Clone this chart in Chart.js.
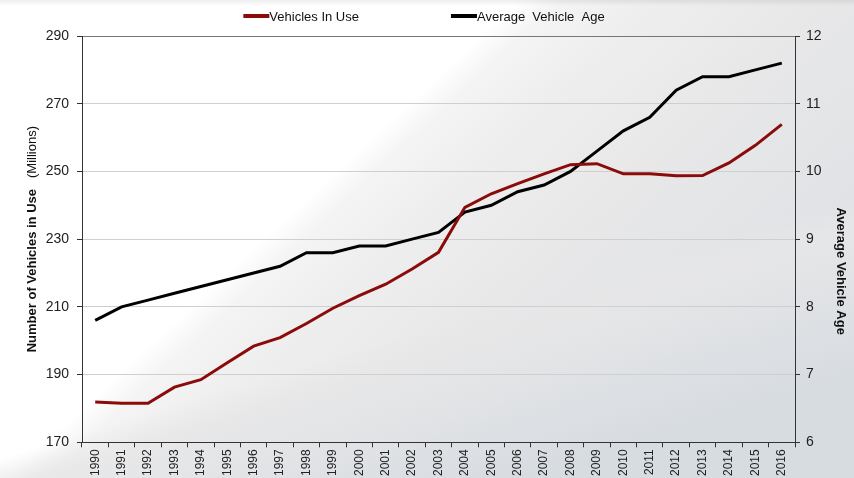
<!DOCTYPE html>
<html>
<head>
<meta charset="utf-8">
<script src="https://cdn.jsdelivr.net/npm/chart.js@4/dist/chart.umd.min.js"></script>
<style>
  html, body { margin: 0; padding: 0; }
  body {
    width: 854px;
    height: 478px;
    overflow: hidden;
    background:
      linear-gradient(to bottom, rgba(0,0,0,0.07), rgba(0,0,0,0) 6px),
      linear-gradient(163deg, rgba(232,232,232,0) 62%, rgba(231,231,232,0.85) 66%, rgba(214,219,224,0.85) 86%),
      linear-gradient(137deg, #ffffff 38%, #f4f4f4 41%, #eeeeee 48%, #e8e8e9 60%, #e0e2e5 78%);
  }
  #wrap { position: relative; width: 854px; height: 478px; }
</style>
</head>
<body>
<div id="wrap"><canvas id="chart" width="854" height="478"></canvas></div>
<script>
const FONT = '"Liberation Sans", Arial, sans-serif'

const years = ['1990', '1991', '1992', '1993', '1994', '1995', '1996', '1997', '1998', '1999',
  '2000', '2001', '2002', '2003', '2004', '2005', '2006', '2007', '2008', '2009',
  '2010', '2011', '2012', '2013', '2014', '2015', '2016']

// millions of vehicles (left axis)
const vehiclesInUse = [181.9, 181.5, 181.5, 186.3, 188.5, 193.5, 198.4, 200.9, 205.1, 209.6,
  213.3, 216.7, 221.2, 226.1, 239.4, 243.4, 246.4, 249.3, 252.0, 252.3,
  249.3, 249.3, 248.7, 248.8, 252.5, 257.7, 263.9]

// years (right axis)
const averageAge = [7.8, 8.0, 8.1, 8.2, 8.3, 8.4, 8.5, 8.6, 8.8, 8.8,
  8.9, 8.9, 9.0, 9.1, 9.4, 9.5, 9.7, 9.8, 10.0, 10.3,
  10.6, 10.8, 11.2, 11.4, 11.4, 11.5, 11.6]

const seriesLabels = ['Vehicles In Use', 'Average  Vehicle  Age']
const leftTitle = ['Number of Vehicles in Use', '(Millions)']
const rightTitle = 'Average Vehicle Age'

// legend with short thick line swatches, drawn at the top
const lineLegend = {
  id: 'lineLegend',
  afterDraw(chart) {
    const ctx = chart.ctx
    ctx.save()
    ctx.font = '13px ' + FONT
    ctx.textBaseline = 'middle'
    const sw = 26
    const gap = 92
    const items = chart.data.datasets.map(ds => ({
      text: ds.label,
      color: ds.borderColor,
      w: sw + ctx.measureText(ds.label).width
    }))
    const total = items.reduce((s, it) => s + it.w, 0) + gap * (items.length - 1)
    let x = (chart.width - total) / 2 - 3
    const y = 16
    items.forEach(it => {
      ctx.fillStyle = it.color
      ctx.fillRect(x, y - 2, sw, 4)
      ctx.fillStyle = '#111'
      ctx.fillText(it.text, x + sw, y + 1)
      x += it.w + gap
    })
    ctx.restore()
  }
}

// axis titles (left one mixes bold and normal text)
const axisTitles = {
  id: 'axisTitles',
  afterDraw(chart) {
    const { ctx, chartArea } = chart
    const midY = (chartArea.top + chartArea.bottom) / 2
    ctx.save()
    ctx.fillStyle = '#111'
    ctx.textBaseline = 'middle'

    // left
    ctx.translate(32, midY)
    ctx.rotate(-Math.PI / 2)
    const boldFont = 'bold 13px ' + FONT
    const normFont = '13px ' + FONT
    ctx.font = boldFont
    const w1 = ctx.measureText(leftTitle[0]).width
    ctx.font = normFont
    const w2 = ctx.measureText(leftTitle[1]).width
    const spacing = 11
    let x0 = -(w1 + spacing + w2) / 2
    ctx.textAlign = 'left'
    ctx.font = boldFont
    ctx.fillText(leftTitle[0], x0, 0)
    ctx.font = normFont
    ctx.fillText(leftTitle[1], x0 + w1 + spacing, 0)
    ctx.restore()

    // right
    ctx.save()
    ctx.fillStyle = '#111'
    ctx.textBaseline = 'middle'
    ctx.textAlign = 'center'
    ctx.font = 'bold 13px ' + FONT
    ctx.translate(841, midY + 32)
    ctx.rotate(Math.PI / 2)
    ctx.fillText(rightTitle, 0, 0)
    ctx.restore()
  }
}

const ctx = document.getElementById('chart').getContext('2d')

new Chart(ctx, {
  type: 'line',
  data: {
    labels: years,
    datasets: [
      {
        label: seriesLabels[0],
        data: vehiclesInUse,
        yAxisID: 'y',
        borderColor: '#8b0b0b',
        backgroundColor: '#8b0b0b',
        borderWidth: 3,
        pointRadius: 0,
        tension: 0
      },
      {
        label: seriesLabels[1],
        data: averageAge,
        yAxisID: 'y1',
        borderColor: '#000000',
        backgroundColor: '#000000',
        borderWidth: 3,
        pointRadius: 0,
        tension: 0
      }
    ]
  },
  options: {
    responsive: false,
    animation: false,
    layout: {
      padding: { top: 36, left: 0, right: 0, bottom: 0 }
    },
    plugins: {
      legend: { display: false },
      tooltip: { enabled: false }
    },
    scales: {
      x: {
        offset: true,
        grid: {
          offset: true,
          drawOnChartArea: false,
          tickLength: 5,
          tickColor: '#333'
        },
        border: { color: '#333', width: 1 },
        ticks: {
          autoSkip: false,
          minRotation: 90,
          maxRotation: 90,
          padding: 2,
          color: '#222',
          font: { family: FONT, size: 12 }
        }
      },
      y: {
        position: 'left',
        min: 170,
        max: 290,
        ticks: {
          stepSize: 20,
          padding: 8,
          color: '#222',
          font: { family: FONT, size: 14 }
        },
        grid: {
          color: c => (c.tick && c.tick.value === 290) ? '#777' : '#cfcfcf',
          tickColor: '#333',
          tickLength: 5
        },
        border: { color: '#333', width: 1 },
        afterFit: s => { s.width = 82 }
      },
      y1: {
        position: 'right',
        min: 6,
        max: 12,
        ticks: {
          stepSize: 1,
          padding: 6,
          color: '#222',
          font: { family: FONT, size: 14 }
        },
        grid: {
          drawOnChartArea: false,
          tickColor: '#333',
          tickLength: 5
        },
        border: { color: '#333', width: 1 },
        afterFit: s => { s.width = 59 }
      }
    }
  },
  plugins: [lineLegend, axisTitles]
})
</script>
</body>
</html>
